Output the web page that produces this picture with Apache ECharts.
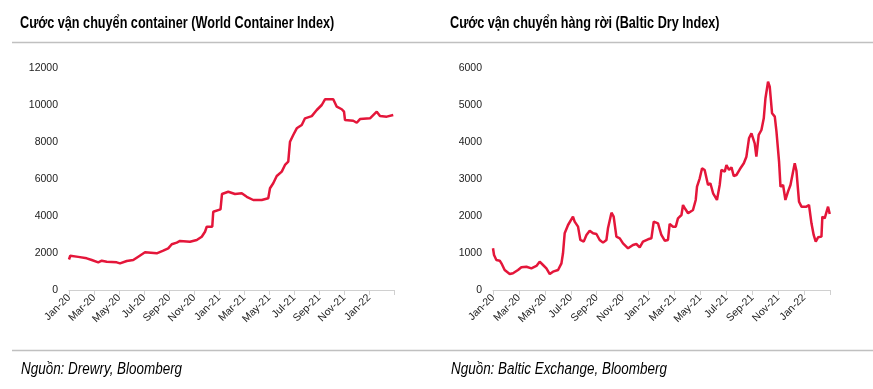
<!DOCTYPE html>
<html><head><meta charset="utf-8">
<script src="https://cdn.jsdelivr.net/npm/echarts@6/dist/echarts.min.js"></script>
<style>html,body{margin:0;padding:0;background:#fff}#c{width:873px;height:389px}</style>
</head><body><div id="c"></div>
<script>
// Month labels for every 2nd month, index = months since Jan-2020
const monthLabels = ['Jan-20','Mar-20','May-20','Jul-20','Sep-20','Nov-20','Jan-21','Mar-21','May-21','Jul-21','Sep-21','Nov-21','Jan-22',''];
const leftYTicks = [0,2000,4000,6000,8000,10000,12000];
const rightYTicks = [0,1000,2000,3000,4000,5000,6000];
// World Container Index: [month index, value]
const wciMonths = [0,0.1,0.74,1.42,1.82,2.34,2.62,3.02,3.82,4.08,4.62,5.14,5.54,6.08,7.02,7.54,7.94,8.22,8.62,8.88,9.68,10.22,10.62,10.88,11.02,11.46,11.54,12.12,12.24,12.74,13.28,13.82,14.22,14.74,15.42,15.94,16.08,16.34,16.62,17.02,17.28,17.54,17.68,17.94,18.22,18.62,18.88,19.42,19.82,20.22,20.48,21.14,21.42,21.82,22.0,22.08,22.74,23.02,23.28,24.08,24.62,24.74,24.88,25.42,25.94];
const wciValues = [1650,1850,1790,1713,1620,1495,1585,1530,1495,1440,1567,1620,1800,2037,1983,2125,2250,2470,2560,2650,2610,2700,2880,3150,3420,3420,4230,4360,5190,5310,5190,5230,5040,4865,4865,4955,5500,5770,6160,6400,6760,6935,8015,8380,8740,8920,9280,9400,9730,10000,10310,10310,9910,9770,9640,9190,9150,9040,9240,9280,9640,9675,9400,9370,9460];
// Baltic Dry Index: [month index, value]
const bdiMonths = [0,0.08,0.26,0.52,0.65,0.90,1.29,1.54,1.93,2.19,2.58,2.96,3.35,3.60,3.86,4.12,4.38,4.63,5.02,5.28,5.40,5.53,5.79,6.17,6.30,6.56,6.74,7.00,7.21,7.46,7.72,7.98,8.23,8.49,8.75,8.87,9.00,9.14,9.31,9.52,9.78,10.03,10.42,10.80,11.06,11.32,11.57,11.96,12.22,12.40,12.73,12.99,13.25,13.50,13.63,13.89,14.10,14.27,14.54,14.66,14.85,15.05,15.43,15.64,15.74,15.95,16.13,16.33,16.59,16.77,16.98,17.28,17.49,17.62,17.88,18.01,18.21,18.40,18.57,18.78,19.04,19.35,19.55,19.75,19.94,20.19,20.32,20.50,20.71,20.89,21.02,21.22,21.35,21.53,21.74,21.87,22.07,22.18,22.38,22.56,22.76,22.95,23.15,23.28,23.41,23.61,23.80,24.18,24.38,24.57,24.74,24.90,25.08,25.34,25.41,25.59,25.85,25.98];
const bdiValues = [1127,946,811,792,721,540,432,451,540,613,630,586,649,765,676,586,432,495,540,721,992,1532,1757,1982,1847,1712,1352,1307,1487,1604,1532,1514,1352,1280,1352,1667,1712,2090,1982,1442,1397,1262,1127,1217,1243,1154,1307,1370,1397,1847,1802,1487,1333,1352,1784,1712,1712,1937,2027,2297,2181,2073,2162,2433,2792,3019,3289,3244,2838,2884,2614,2433,2838,3244,3198,3379,3244,3316,3081,3108,3262,3424,3603,4100,4236,3965,3603,4190,4325,4640,5182,5630,5495,4776,4685,4280,3468,2792,2838,2433,2657,2838,3198,3424,3225,2387,2252,2252,2297,1802,1487,1307,1424,1442,1982,1937,2252,2054];

const titles = ['Cước vận chuyển container (World Container Index)','Cước vận chuyển hàng rời (Baltic Dry Index)'];
const sources = ['Nguồn: Drewry, Bloomberg','Nguồn: Baltic Exchange, Bloomberg'];

const zip = (a,b) => a.map((x,i)=>[x,b[i]]);
const red = '#E4163A';
const sans = "'Liberation Sans', Arial, sans-serif";

function xAxis(gi){
  return {type:'value', gridIndex:gi, min:0, max:26, interval:2,
    axisLine:{show:true, lineStyle:{color:'#d0d0d0', width:1}},
    axisTick:{show:true, length:5, lineStyle:{color:'#d0d0d0'}},
    splitLine:{show:false},
    axisLabel:{rotate:45, fontSize:10.5, color:'#222', fontFamily:sans, margin:6,
      formatter:v=>monthLabels[Math.round(v/2)] || ''}};
}
function yAxis(gi, ticks){
  return {type:'value', gridIndex:gi, min:ticks[0], max:ticks[ticks.length-1], interval:ticks[1]-ticks[0],
    axisLine:{show:false}, axisTick:{show:false}, splitLine:{show:false},
    axisLabel:{fontSize:10.5, color:'#222', fontFamily:sans, margin:11, formatter:v=>String(v)}};
}
function txt(s, x, y, bold, italic, size, sx){
  return {type:'text', x:x, y:y, scaleX:sx, scaleY:1,
    style:{text:s, x:0, y:0, fontFamily:sans, fontSize:size, fontWeight:bold?'bold':'normal',
      fontStyle:italic?'italic':'normal', fill:'#000', verticalAlign:'middle', textVerticalAlign:'middle', align:'left'}};
}
const chart = echarts.init(document.getElementById('c'), null, {renderer:'canvas'});
chart.setOption({
  animation:false,
  graphic:[
    {type:'line', shape:{x1:12,y1:42.5,x2:873,y2:42.5}, style:{stroke:'#c0c0c0', lineWidth:1.5}},
    {type:'line', shape:{x1:12,y1:350.5,x2:873,y2:350.5}, style:{stroke:'#c0c0c0', lineWidth:1.5}},
    txt(titles[0], 20, 24, true, false, 16, 0.79),
    txt(titles[1], 450, 24, true, false, 16, 0.79),
    txt(sources[0], 21, 370, false, true, 16, 0.84),
    txt(sources[1], 451, 370, false, true, 16, 0.84)
  ],
  grid:[
    {left:69, right:873-394, top:68, bottom:389-290},
    {left:493, right:873-830, top:68, bottom:389-290}
  ],
  xAxis:[xAxis(0), xAxis(1)],
  yAxis:[yAxis(0,leftYTicks), yAxis(1,rightYTicks)],
  series:[
    {type:'line', xAxisIndex:0, yAxisIndex:0, data:zip(wciMonths,wciValues), showSymbol:false, lineStyle:{color:red, width:2.5}},
    {type:'line', xAxisIndex:1, yAxisIndex:1, data:zip(bdiMonths,bdiValues), showSymbol:false, lineStyle:{color:red, width:2.5}}
  ]
});
</script></body></html>
